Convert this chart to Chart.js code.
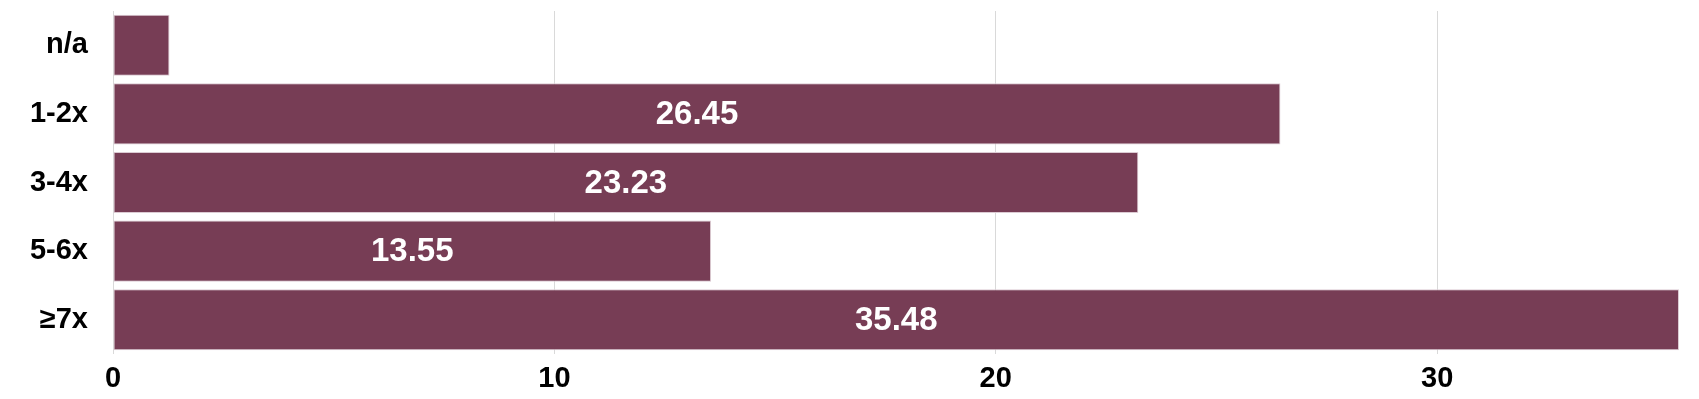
<!DOCTYPE html>
<html>
<head>
<meta charset="utf-8">
<script src="https://cdn.jsdelivr.net/npm/chart.js@4"></script>
<style>
  body { margin: 0; background: #fff; }
  #wrap { width: 1699px; height: 399px; }
</style>
</head>
<body>
<div id="wrap"><canvas id="plot1" width="1699" height="399"></canvas></div>
<script>
const categories = ['n/a', '1-2x', '3-4x', '5-6x', '\u22657x'];
const values = [1.28, 26.45, 23.23, 13.55, 35.48];
const xTicks = [0, 10, 20, 30];

const barColor = '#773d55';

// draw the value in the middle of each bar (skip bars too short for the text)
const barLabels = {
    id: 'barLabels',
    afterDatasetsDraw(chart) {
        const ctx = chart.ctx;
        const meta = chart.getDatasetMeta(0);
        ctx.save();
        ctx.font = 'bold 33px "Liberation Sans", Arial, sans-serif';
        ctx.fillStyle = '#ffffff';
        ctx.textAlign = 'center';
        ctx.textBaseline = 'middle';
        meta.data.forEach((bar, i) => {
            const text = values[i].toFixed(2);
            const w = bar.x - bar.base;
            if (w < ctx.measureText(text).width + 20) return;
            ctx.fillText(text, (bar.x + bar.base) / 2, bar.y + 1);
        });
        ctx.restore();
    }
};

const plot1 = document.getElementById('plot1').getContext('2d');
new Chart(plot1, {
    type: 'bar',
    data: {
        labels: categories,
        datasets: [{
            data: values,
            backgroundColor: barColor,
            borderColor: '#dccbd3',
            borderWidth: 1,
            borderSkipped: false,
            barPercentage: 0.89,
            categoryPercentage: 1.0
        }]
    },
    options: {
        indexAxis: 'y',
        responsive: false,
        animation: false,
        layout: { padding: { top: 11, right: 20, left: 0, bottom: 0 } },
        plugins: {
            legend: { display: false },
            tooltip: { enabled: false }
        },
        scales: {
            x: {
                min: 0,
                max: Math.max(...values),
                border: { display: false },
                grid: { color: '#d9d9d9', lineWidth: 1, drawTicks: false },
                afterBuildTicks: (axis) => {
                    axis.ticks = xTicks.map(v => ({ value: v }));
                },
                afterFit: (axis) => {
                    axis.height = 45;
                    axis.paddingLeft = 0;
                    axis.paddingRight = 0;
                },
                ticks: {
                    padding: 8,
                    color: '#000',
                    font: { family: '"Liberation Sans", Arial, sans-serif', size: 29, weight: 'bold' }
                }
            },
            y: {
                border: { display: false },
                grid: { display: false, drawTicks: false },
                afterFit: (axis) => {
                    axis.width = 113;
                    axis.paddingTop = 0;
                    axis.paddingBottom = 0;
                },
                ticks: {
                    padding: 25,
                    color: '#000',
                    font: { family: '"Liberation Sans", Arial, sans-serif', size: 29, weight: 'bold' }
                }
            }
        }
    },
    plugins: [barLabels]
});
</script>
</body>
</html>
